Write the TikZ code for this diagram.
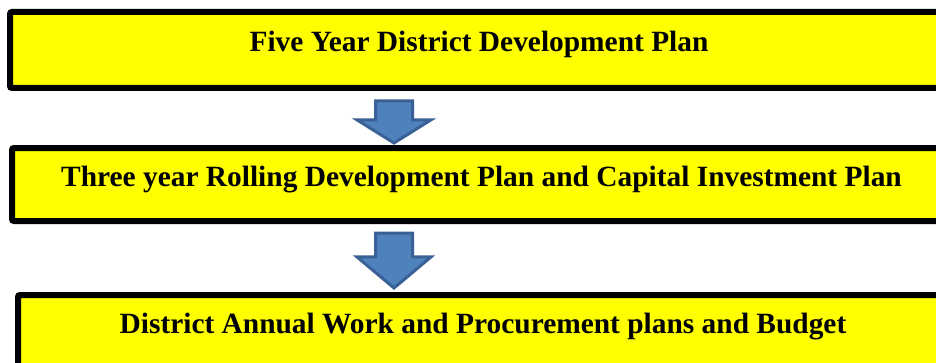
\documentclass[tikz,border=0pt]{standalone}
\usepackage{fontspec}
\setmainfont{Liberation Serif}
\usetikzlibrary{shapes.arrows}
\definecolor{planyellow}{HTML}{FFFF00}
\definecolor{arrowblue}{HTML}{4F81BD}
\definecolor{arrowedge}{HTML}{3A6195}
\tikzset{
  planbox/.style={draw=black, line width=6pt, fill=planyellow, rounded corners=2pt,
    inner sep=0pt, font=\fontsize{29.4}{34}\selectfont\bfseries},
  downarrow/.style={single arrow, draw=arrowedge, fill=arrowblue, line width=3pt,
    rotate=-90, anchor=tail, inner xsep=0pt, inner ysep=17pt,
    single arrow head extend=18.5pt, single arrow head indent=0pt}
}
\begin{document}
\begin{tikzpicture}[x=1pt,y=1pt]
\useasboundingbox (0,0) rectangle (936,362);
\clip (0,0) rectangle (936,362);
% the three planning levels
\node[planbox, minimum width=938pt, minimum height=76pt, text height=20pt, text depth=16pt]
  (fiveyear) at (479,312) {Five Year District Development Plan};
\node[planbox, minimum width=939pt, minimum height=73pt, text height=20pt, text depth=16pt]
  (rolling) at (481.5,177.5) {Three year Rolling Development Plan and Capital Investment Plan};
\node[planbox, minimum width=930pt, minimum height=76pt, text height=18pt, text depth=18pt]
  (annual) at (483,29) {District Annual Work and Procurement plans and Budget};
% block arrows between levels
\node[downarrow, minimum height=42pt, single arrow tip angle=116] (down1) at (394,262.5) {};
\node[downarrow, minimum height=55pt, single arrow tip angle=100] (down2) at (394,130.5) {};
\end{tikzpicture}
\end{document}
